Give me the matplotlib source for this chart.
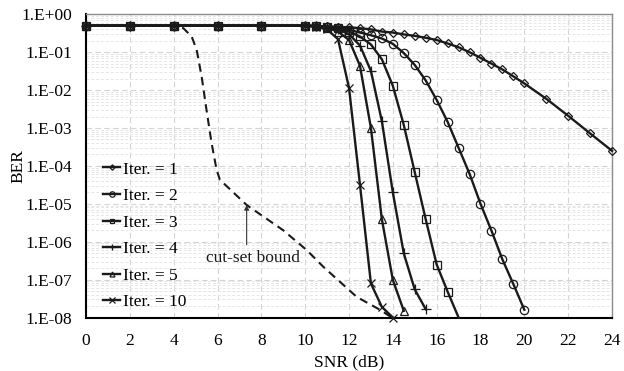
import math
import matplotlib
matplotlib.use("Agg")
import matplotlib.pyplot as plt
from matplotlib.ticker import FixedLocator, FuncFormatter, LogLocator, NullFormatter

# ---- data -------------------------------------------------------------
snr_low = [0, 2, 4, 6, 8, 10, 10.5, 11, 11.5, 12, 12.5, 13, 13.5, 14, 14.5,
           15, 15.5, 16, 16.5, 17, 17.5, 18, 18.5, 19, 19.5, 20, 21, 22, 23, 24]

ber_iter1 = [5.0e-1, 5.0e-1, 5.0e-1, 5.0e-1, 5.0e-1, 5.0e-1, 4.9e-1, 4.8e-1,
             4.7e-1, 4.5e-1, 4.3e-1, 4.0e-1, 3.5e-1, 3.3e-1, 2.95e-1, 2.7e-1,
             2.4e-1, 2.1e-1, 1.7e-1, 1.35e-1, 1.0e-1, 7.1e-2, 5.0e-2, 3.5e-2,
             2.3e-2, 1.5e-2, 5.9e-3, 2.1e-3, 7.2e-4, 2.5e-4]

snr_iter2 = [0, 2, 4, 6, 8, 10, 10.5, 11, 11.5, 12, 12.5, 13, 13.5, 14, 14.5,
             15, 15.5, 16, 16.5, 17, 17.5, 18, 18.5, 19, 19.5, 20]
ber_iter2 = [5.0e-1, 5.0e-1, 5.0e-1, 5.0e-1, 5.0e-1, 5.0e-1, 4.9e-1, 4.7e-1,
             4.4e-1, 3.9e-1, 3.3e-1, 2.8e-1, 2.3e-1, 1.66e-1, 9.5e-2, 4.6e-2,
             1.8e-2, 5.5e-3, 1.45e-3, 3.0e-4, 6.2e-5, 1.0e-5, 1.95e-6, 3.4e-7,
             7.6e-8, 1.6e-8]

snr_iter3 = [0, 2, 4, 6, 8, 10, 10.5, 11, 11.5, 12, 12.5, 13, 13.5, 14, 14.5,
             15, 15.5, 16, 16.5, 17]
ber_iter3 = [5.0e-1, 5.0e-1, 5.0e-1, 5.0e-1, 5.0e-1, 5.0e-1, 4.9e-1, 4.7e-1,
             4.3e-1, 3.5e-1, 2.6e-1, 1.6e-1, 6.5e-2, 1.3e-2, 1.2e-3, 6.8e-5,
             3.9e-6, 2.5e-7, 4.8e-8, 1.0e-8]

snr_iter4 = [0, 2, 4, 6, 8, 10, 10.5, 11, 11.5, 12, 12.5, 13, 13.5, 14, 14.5,
             15, 15.5]
ber_iter4 = [5.0e-1, 5.0e-1, 5.0e-1, 5.0e-1, 5.0e-1, 5.0e-1, 4.9e-1, 4.6e-1,
             4.0e-1, 3.0e-1, 1.5e-1, 3.2e-2, 1.5e-3, 2.0e-5, 4.9e-7, 5.5e-8,
             1.66e-8]

snr_iter5 = [0, 2, 4, 6, 8, 10, 10.5, 11, 11.5, 12, 12.5, 13, 13.5, 14, 14.5]
ber_iter5 = [5.0e-1, 5.0e-1, 5.0e-1, 5.0e-1, 5.0e-1, 5.0e-1, 4.8e-1, 4.4e-1,
             3.5e-1, 2.1e-1, 4.4e-2, 1.0e-3, 3.9e-6, 9.8e-8, 1.5e-8]

snr_iter10 = [0, 2, 4, 6, 8, 10, 10.5, 11, 11.5, 12, 12.5, 13, 13.5, 14]
ber_iter10 = [5.0e-1, 5.0e-1, 5.0e-1, 5.0e-1, 5.0e-1, 5.0e-1, 4.7e-1, 4.0e-1,
              2.2e-1, 1.15e-2, 3.2e-5, 7.9e-8, 1.9e-8, 1.0e-8]

snr_bound = [0, 2, 3.9, 4.44, 4.82, 5.05, 5.28, 5.50, 5.73, 5.96, 6.11, 7.33,
             9.00, 10.07, 10.82, 12.35, 13.41, 13.95]
ber_bound = [5.0e-1, 5.0e-1, 5.0e-1, 4.3e-1, 2.6e-1, 1.15e-1, 2.2e-2, 2.95e-3,
             4.0e-4, 7.8e-5, 4.3e-5, 9.3e-6, 2.0e-6, 6.0e-7, 2.2e-7, 3.5e-8,
             1.6e-8, 1.0e-8]

labels = ["Iter. = 1", "Iter. = 2", "Iter. = 3", "Iter. = 4", "Iter. = 5",
          "Iter. = 10"]
x_ticks = [0, 2, 4, 6, 8, 10, 12, 14, 16, 18, 20, 22, 24]
y_ticks = [1e0, 1e-1, 1e-2, 1e-3, 1e-4, 1e-5, 1e-6, 1e-7, 1e-8]
bound_label = "cut-set bound"

# ---- figure -----------------------------------------------------------
plt.rcParams["font.family"] = ["Liberation Serif", "DejaVu Serif"]
plt.rcParams["font.size"] = 12.5

fig = plt.figure(figsize=(6.24, 3.71), dpi=100)
ax = fig.add_axes([86 / 624, 1 - 317.5 / 371, 526 / 624, (317.5 - 14.3) / 371])

ax.set_yscale("log")
ax.set_xlim(0, 24)
ax.set_ylim(1e-8, 1e0)

# grid: dashed major lines, dense minor lines on the log axis
ax.set_axisbelow(True)
ax.xaxis.set_major_locator(FixedLocator(x_ticks))
ax.yaxis.set_major_locator(FixedLocator(y_ticks))
ax.yaxis.set_minor_locator(LogLocator(base=10, subs=range(2, 10), numticks=20))
ax.yaxis.set_minor_formatter(NullFormatter())
ax.grid(True, which="major", color="#d4d4d4", linestyle=(0, (5, 3)), linewidth=0.8)
ax.grid(True, which="minor", axis="y", color="#e6e6e6", linestyle=(0, (3, 2)),
        linewidth=0.7)


def exp_label(v, pos):
    e = round(math.log10(v))
    return "1.E+00" if e >= 0 else "1.E-%02d" % (-e)


ax.yaxis.set_major_formatter(FuncFormatter(exp_label))
ax.tick_params(axis="both", which="both", length=0)
ax.tick_params(axis="x", pad=11)
ax.tick_params(axis="y", pad=10)

for side in ("left", "bottom"):
    ax.spines[side].set_color("black")
    ax.spines[side].set_linewidth(1.5)
for side in ("top", "right"):
    ax.spines[side].set_color("#8c8c8c")
    ax.spines[side].set_linewidth(1.0)

series = [
    (snr_low, ber_iter1, "D", 4.2, None),
    (snr_iter2, ber_iter2, "o", 6.0, None),
    (snr_iter3, ber_iter3, "s", 5.5, list(range(len(snr_iter3) - 1))),
    (snr_iter4, ber_iter4, "+", 7.0, None),
    (snr_iter5, ber_iter5, "^", 5.5, None),
    (snr_iter10, ber_iter10, "x", 6.0, None),
]

handles = []
for (xs, ys, mk, ms, every), lab in zip(series, labels):
    h, = ax.plot(xs, ys, color="#1a1a1a", linewidth=1.7, marker=mk,
                 markersize=ms, markerfacecolor="none", markeredgecolor="#1a1a1a",
                 markeredgewidth=0.9, markevery=every, label=lab, clip_on=False,
                 zorder=3)
    handles.append(h)

ax.plot(snr_bound, ber_bound, color="#1a1a1a", linewidth=1.5,
        linestyle=(0, (4, 2.6)), zorder=2)

# bound annotation
ax.annotate("", xy=(7.33, 9.3e-6), xytext=(7.33, 8.3e-7),
            arrowprops=dict(arrowstyle="-|>", color="#333333", lw=0.8,
                            mutation_scale=7, shrinkA=0, shrinkB=0))
ax.text(7.6, 3.7e-7, bound_label, ha="center", va="center", color="#1a1a1a")

ax.set_xlabel("SNR (dB)", labelpad=4)
ax.set_ylabel("BER", labelpad=-4)

leg = ax.legend(handles=handles, loc="upper left",
                bbox_to_anchor=(0.032, 0.515), frameon=False, borderpad=0,
                borderaxespad=0, handlelength=1.0, handletextpad=0.15,
                labelspacing=0.6, markerscale=0.65)

fig.savefig("out.png", dpi=100)
